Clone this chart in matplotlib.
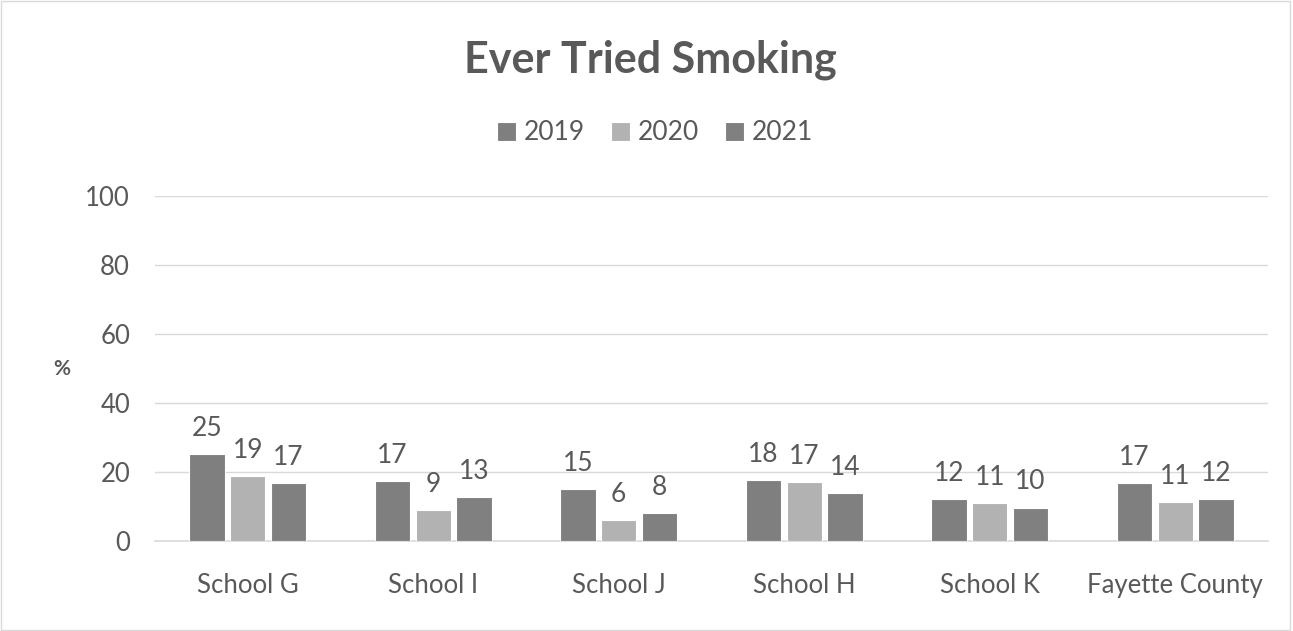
import numpy as np
import matplotlib.pyplot as plt
from matplotlib.patches import Rectangle

plt.rcParams['font.family'] = ['Lato', 'DejaVu Sans']

# Données
ecoles = ["School G", "School I", "School J", "School H", "School K", "Fayette County"]
annees = ["2019", "2020", "2021"]
v2019 = [25.3, 17.4, 15.0, 17.6, 12.2, 16.9]
v2020 = [18.9, 8.9, 6.0, 17.1, 11.1, 11.2]
v2021 = [16.8, 12.8, 8.2, 14.0, 9.7, 12.2]
etiquettes = [
    [25, 17, 15, 18, 12, 17],
    [19, 9, 6, 17, 11, 11],
    [17, 13, 8, 14, 10, 12],
]
couleurs = ["#7f7f7f", "#b2b2b2", "#808080"]
texte = "#595959"

fig = plt.figure(figsize=(12.93, 6.31), dpi=100)
ax = fig.add_axes([155 / 1293, 1 - 541 / 631, (1268 - 155) / 1293, (541 - 196) / 631])

x = np.arange(len(ecoles))
largeur = 0.19
pas = 0.22
for i, (vals, lab) in enumerate(zip([v2019, v2020, v2021], etiquettes)):
    pos = x + (i - 1) * pas
    ax.bar(pos, vals, largeur, color=couleurs[i], edgecolor="white", linewidth=0.8,
           label=annees[i], zorder=3)
    for px, v, t in zip(pos, vals, lab):
        ax.text(px, v + 3.8, str(t), ha="center", va="bottom", fontsize=19, color=texte)

ax.set_xlim(-0.5, len(ecoles) - 0.5)
ax.set_ylim(0, 100)
ax.set_yticks(range(0, 101, 20))
ax.set_xticks(x)
ax.set_xticklabels(ecoles)
ax.tick_params(axis="both", length=0, labelsize=18.5, labelcolor=texte)
ax.tick_params(axis="x", pad=23)
ax.tick_params(axis="y", pad=18)
ax.grid(axis="y", color="#d9d9d9", linewidth=1, zorder=0)
for s in ["top", "right", "left"]:
    ax.spines[s].set_visible(False)
ax.spines["bottom"].set_color("#d9d9d9")
ax.spines["bottom"].set_linewidth(1.2)

fig.text(62 / 1293, 1 - 369 / 631, "%", ha="center", va="center", fontsize=15,
         fontweight="bold", color=texte)
fig.text(650 / 1293, 1 - 60 / 631, "Ever Tried Smoking", ha="center", va="center",
         fontsize=31, fontweight="bold", color=texte)

leg = fig.legend(loc="center", bbox_to_anchor=(655 / 1293, 1 - 133 / 631), ncol=3,
                 frameon=False, fontsize=19, handlelength=0.7, handleheight=0.7,
                 handletextpad=0.3, columnspacing=1.0, labelcolor=texte)

fig.patches.append(Rectangle((0.001, 0.002), 0.997, 0.996, transform=fig.transFigure,
                             fill=False, edgecolor="#d9d9d9", linewidth=1))

plt.savefig("out.png", dpi=100)
